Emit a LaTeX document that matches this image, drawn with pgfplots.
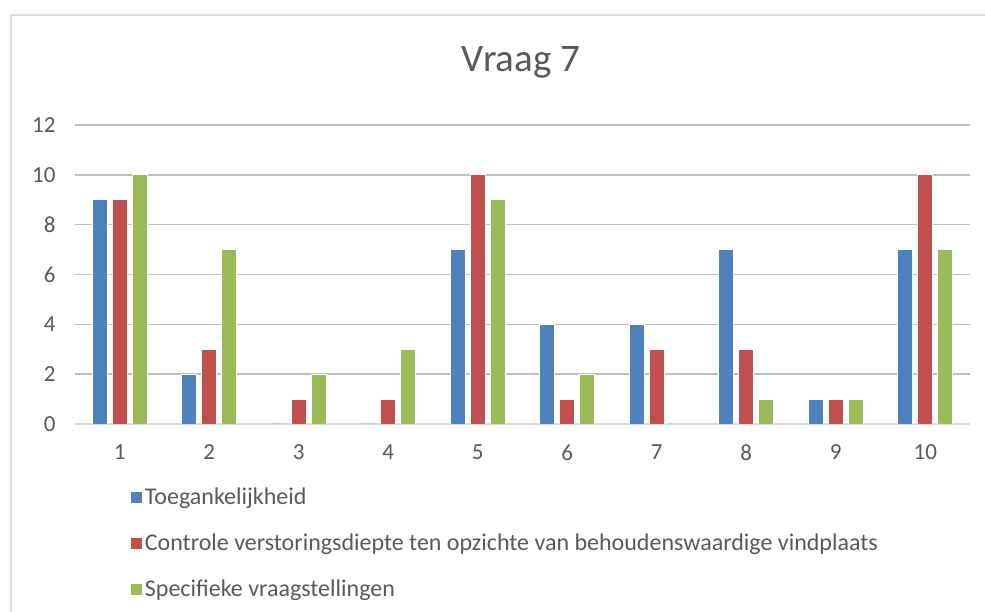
\documentclass[border=0pt]{standalone}
\usepackage{pgfplots}
\pgfplotsset{compat=1.18}
\usepackage{fontspec}
\setmainfont{Carlito}
\definecolor{sblue}{HTML}{4F81BD}
\definecolor{sred}{HTML}{C0504D}
\definecolor{sgreen}{HTML}{9BBB59}
\definecolor{txt}{HTML}{595959}
\definecolor{grid}{HTML}{D9D9D9}
\begin{document}
\begin{tikzpicture}[x=1pt,y=1pt]
\useasboundingbox (0,0) rectangle (985,612);
\draw[grid, line width=1.5pt] (11,0) -- (11,597) -- (985,597);
\node[txt, font=\fontsize{39}{44}\selectfont] at (521,550) {Vraag 7};
\begin{axis}[
    at={(75pt,188pt)}, anchor=south west,
    scale only axis, width=895pt, height=299pt,
    ybar=5pt, bar width=15pt,
    xmin=0.5, xmax=10.5, ymin=0, ymax=12,
    xtick={1,...,10}, ytick={0,2,...,12},
    axis x line*=bottom, axis y line*=left,
    x axis line style={grid, line width=2pt, -},
    y axis line style={draw=none},
    ymajorgrids, xmajorgrids=false, grid style={grid, line width=1.5pt},
    major tick length=0pt,
    ticklabel style={txt, font=\fontsize{23}{26}\selectfont},
    yticklabel style={xshift=-16pt},
    xticklabel style={yshift=-17pt},
    /pgf/number format/assume math mode=true,
    every axis plot/.append style={draw=white, line width=0.8pt},
    legend image code/.code={\fill[#1] (0pt,-6pt) rectangle (12pt,6pt);},
    legend cell align=left,
    legend style={at={(0.058,-0.2)}, anchor=north west, draw=none, fill=none,
        font=\fontsize{24}{28}\selectfont, text=txt, row sep=24pt,
        nodes={inner xsep=2pt}},
]
\addplot[fill=sblue] coordinates {(1,9) (2,2) (3,0) (4,0) (5,7) (6,4) (7,4) (8,7) (9,1) (10,7)};
\addplot[fill=sred] coordinates {(1,9) (2,3) (3,1) (4,1) (5,10) (6,1) (7,3) (8,3) (9,1) (10,10)};
\addplot[fill=sgreen] coordinates {(1,10) (2,7) (3,2) (4,3) (5,9) (6,2) (7,0) (8,1) (9,1) (10,7)};
\legend{Toegankelijkheid, Controle verstoringsdiepte ten opzichte van behoudenswaardige vindplaats, Specifieke vraagstellingen}
\end{axis}
\end{tikzpicture}
\end{document}
